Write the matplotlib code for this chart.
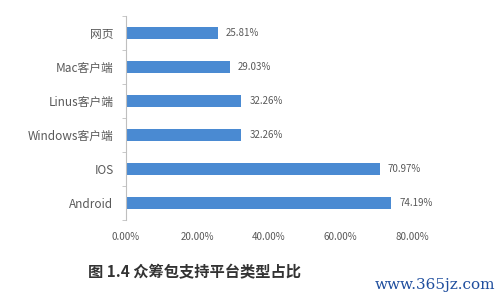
import matplotlib
matplotlib.use("Agg")
import matplotlib.pyplot as plt
from matplotlib.ticker import FixedLocator

plt.rcParams["font.family"] = ["Noto Sans CJK SC", "DejaVu Sans"]
plt.rcParams["axes.unicode_minus"] = False

# data (top to bottom as drawn)
categories = ["网页", "Mac客户端", "Linus客户端", "Windows客户端", "IOS", "Android"]
shares = [25.81, 29.03, 32.26, 32.26, 70.97, 74.19]
xticks = [0, 20, 40, 60, 80]
caption = "图 1.4 众筹包支持平台类型占比"

BAR = "#4a8ad2"
GREY = "#595959"

fig = plt.figure(figsize=(5, 3), dpi=100)
ax = fig.add_axes([0.252, 0.267, 0.572, 0.68])

ypos = list(range(len(categories)))
ax.barh(ypos, shares, height=0.37, color=BAR)
for y, v in zip(ypos, shares):
    ax.text(v + 2.2, y, f"{v:.2f}%", va="center", ha="left", fontsize=7, color=GREY)

ax.set_xlim(0, 80)
ax.set_ylim(len(categories) - 0.5, -0.5)
ax.set_yticks(ypos)
ax.set_yticklabels(categories, fontsize=8.5, color=GREY)
ax.yaxis.set_minor_locator(FixedLocator([i - 0.5 for i in range(len(categories) + 1)]))
ax.tick_params(axis="y", which="major", length=0, pad=9)
ax.tick_params(axis="y", which="minor", length=3, color="#bfbfbf")
ax.set_xticks(xticks)
ax.set_xticklabels([f"{t:.2f}%" for t in xticks], fontsize=7, color=GREY)
ax.tick_params(axis="x", length=0, pad=9)

for s in ["top", "right", "bottom"]:
    ax.spines[s].set_visible(False)
ax.spines["left"].set_color("#bfbfbf")
ax.spines["left"].set_linewidth(0.8)

fig.text(0.388, 0.093, caption, ha="center", va="center", fontsize=11,
         fontweight="bold", color="#333333")
fig.text(0.87, 0.05, "www.365jz.com", ha="center", va="center", fontsize=11,
         family="DejaVu Serif", color="#1f4e9e")

fig.savefig("out.png", dpi=100)
